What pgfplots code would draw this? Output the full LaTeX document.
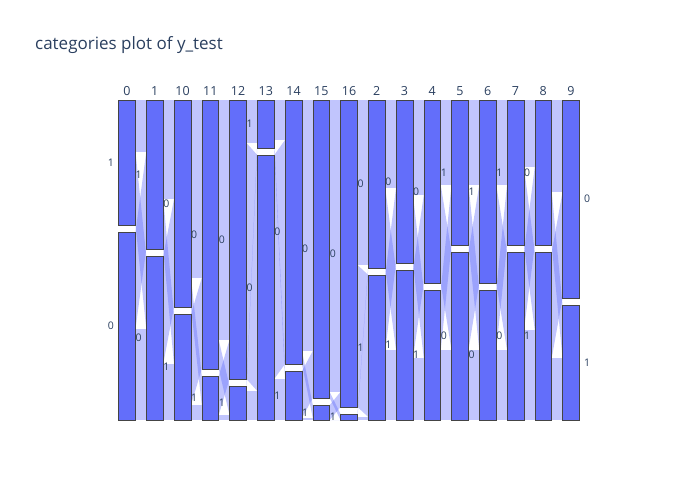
\documentclass[border=0pt]{standalone}
\usepackage{pgfplots}
\pgfplotsset{compat=1.18}
\usepackage{fontspec}
\setmainfont{Open Sans}
\definecolor{pblue}{HTML}{636EFA}
\definecolor{ptext}{HTML}{2A3F5F}
\definecolor{pedge}{HTML}{444444}
\tikzset{
  rib/.style={fill=pblue,fill opacity=0.4,draw=none},
  barst/.style={fill=pblue,draw=pedge,line width=0.5bp},
  lab/.style={font=\fontsize{10.5bp}{12bp}\selectfont,text=ptext,inner sep=0pt,anchor=center},
  dimlab/.style={font=\fontsize{12.5bp}{14bp}\selectfont,text=ptext,inner sep=0pt,anchor=base,yshift=4.5bp}
}
% #1 position, #2 height of bottom block (px units)
\newcommand{\catbar}[2]{%
  \pgfmathsetmacro\xa{#1-0.306}%
  \pgfmathsetmacro\xb{#1+0.306}%
  \pgfmathsetmacro\yt{#2+7}%
  \addplot[barst] coordinates {(\xa,0) (\xb,0) (\xb,#2) (\xa,#2)} --cycle;
  \addplot[barst] coordinates {(\xa,\yt) (\xb,\yt) (\xb,320) (\xa,320)} --cycle;
}
% #1 left position, #2 bL, #3 bR, #4 TT, #5 TB, #6 BT, #7 BB
\newcommand{\ribbon}[7]{%
  \pgfmathsetmacro\xl{#1+0.306}%
  \pgfmathsetmacro\xr{#1+0.694}%
  \pgfmathsetmacro\ytt{320-#4}%
  \pgfmathsetmacro\ylt{#2+7}%
  \pgfmathsetmacro\yrtb{#3-#5}%
  \pgfmathsetmacro\ylbt{#2-#6}%
  \pgfmathsetmacro\yrt{#3+7}%
  \addplot[rib] coordinates {(\xl,\ytt) (\xl,320) (\xr,320) (\xr,\ytt)} --cycle;
  \addplot[rib] coordinates {(\xl,\ylt) (\xl,\ytt) (\xr,#3) (\xr,\yrtb)} --cycle;
  \addplot[rib] coordinates {(\xl,\ylbt) (\xl,#2) (\xr,\ytt) (\xr,\yrt)} --cycle;
  \addplot[rib] coordinates {(\xl,0) (\xl,#7) (\xr,#7) (\xr,0)} --cycle;
}
% #1 position, #2 bottom block height, #3 top label, #4 bottom label, #5 signed offset, #6 dimension name
\newcommand{\catlab}[6]{%
  \node[lab] at (axis cs:{#1#5},{#2/2}) {#4};
  \node[lab] at (axis cs:{#1#5},{(#2+327)/2}) {#3};
  \node[dimlab] at (axis cs:#1,320) {#6};
}
\begin{document}
\begin{tikzpicture}
\useasboundingbox (0,0) rectangle (700bp,500bp);
\node[anchor=west,inner sep=0pt,text=ptext,font=\fontsize{17bp}{20bp}\selectfont] at (35bp,455bp) {categories plot of y\_test};
\begin{axis}[
  at={(99.25bp,80bp)}, anchor=south west,
  scale only axis, width=499.5bp, height=320bp,
  xmin=-1, xmax=17, ymin=0, ymax=320,
  hide axis, clip=false
]
% ribbons between adjacent dimensions
\ribbon{0}{188}{164}{52}{73}{97}{91}
\ribbon{1}{164}{106}{99}{50}{108}{56}
\ribbon{2}{106}{44}{178}{29}{91}{15}
\ribbon{3}{44}{34}{240}{29}{39}{5}
\ribbon{4}{34}{265}{43}{236}{5}{29}
\ribbon{5}{265}{49}{40}{8}{224}{41}
\ribbon{6}{49}{15}{251}{13}{47}{2}
\ribbon{7}{15}{6}{292}{6}{15}{0}
\ribbon{8}{6}{145}{165}{142}{3}{3}
\ribbon{9}{145}{150}{88}{80}{75}{70}
\ribbon{10}{150}{130}{95}{68}{88}{62}
\ribbon{11}{130}{168}{85}{98}{60}{70}
\ribbon{12}{168}{130}{85}{60}{98}{70}
\ribbon{13}{130}{168}{85}{98}{60}{70}
\ribbon{14}{168}{168}{67}{78}{78}{90}
\ribbon{15}{168}{115}{92}{53}{106}{62}
% category bars
\catbar{0}{188}
\catbar{1}{164}
\catbar{2}{106}
\catbar{3}{44}
\catbar{4}{34}
\catbar{5}{265}
\catbar{6}{49}
\catbar{7}{15}
\catbar{8}{6}
\catbar{9}{145}
\catbar{10}{150}
\catbar{11}{130}
\catbar{12}{168}
\catbar{13}{130}
\catbar{14}{168}
\catbar{15}{168}
\catbar{16}{115}
% labels
\catlab{0}{188}{1}{0}{-0.577}{0}
\catlab{1}{164}{1}{0}{-0.577}{1}
\catlab{2}{106}{0}{1}{-0.577}{10}
\catlab{3}{44}{0}{1}{-0.577}{11}
\catlab{4}{34}{0}{1}{-0.577}{12}
\catlab{5}{265}{1}{0}{-0.577}{13}
\catlab{6}{49}{0}{1}{-0.577}{14}
\catlab{7}{15}{0}{1}{-0.577}{15}
\catlab{8}{6}{0}{1}{-0.577}{16}
\catlab{9}{145}{0}{1}{-0.577}{2}
\catlab{10}{150}{0}{1}{-0.577}{3}
\catlab{11}{130}{0}{1}{-0.577}{4}
\catlab{12}{168}{1}{0}{-0.577}{5}
\catlab{13}{130}{1}{0}{-0.577}{6}
\catlab{14}{168}{1}{0}{-0.577}{7}
\catlab{15}{168}{0}{1}{-0.577}{8}
\catlab{16}{115}{0}{1}{+0.577}{9}
\end{axis}
\end{tikzpicture}
\end{document}
